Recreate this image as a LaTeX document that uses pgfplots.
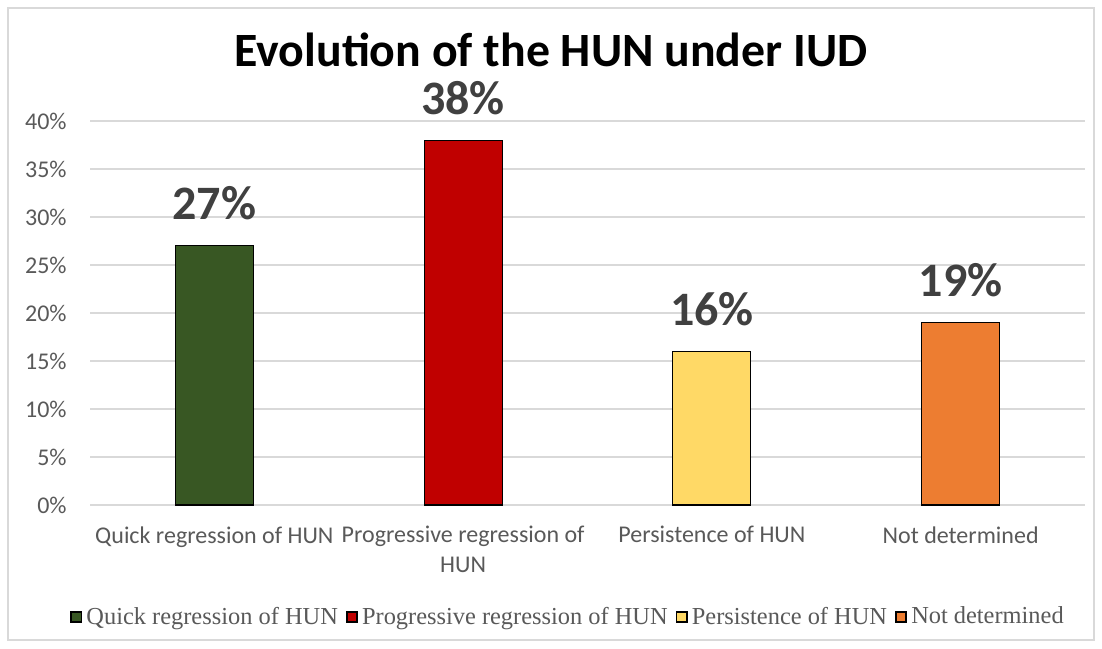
\documentclass[border=0pt]{standalone}
\usepackage{pgfplots}
\pgfplotsset{compat=1.18}
\usepackage{fontspec}
\setmainfont{Carlito}
\newfontfamily\legendfont{Liberation Serif}
\definecolor{cgreen}{HTML}{385723}
\definecolor{cred}{HTML}{C00000}
\definecolor{cyellow}{HTML}{FFD966}
\definecolor{corange}{HTML}{ED7D31}
\definecolor{gridgray}{HTML}{D9D9D9}
\definecolor{ticktext}{HTML}{595959}
\definecolor{labeltext}{HTML}{404040}
% square legend key with black frame
\pgfplotsset{sq/.style={legend image code/.code={%
    \draw[fill=#1, draw=black, line width=0.9pt] (0pt,-2.6pt) rectangle (5.2pt,2.6pt);}}}
\begin{document}
\begin{tikzpicture}
\begin{axis}[
    scale only axis,
    width=497.5pt, height=192pt,
    xmin=-0.5, xmax=3.5,
    ymin=0, ymax=40,
    ytick={0,5,...,40},
    xtick={0,1,2,3},
    xticklabels={Quick regression of HUN, {Progressive regression of\\HUN}, Persistence of HUN, Not determined},
    /pgf/number format/assume math mode=true,
    yticklabel={\pgfmathprintnumber{\tick}\%},
    tick label style={font=\fontsize{12}{15}\selectfont, text=ticktext},
    yticklabel style={anchor=east, inner sep=0pt, xshift=-11.5pt},
    xticklabel style={anchor=north, align=center, inner sep=0pt, yshift=-10.5pt},
    major tick length=0pt,
    axis line style={draw=none},
    ymajorgrids,
    grid style={gridgray, line width=0.6pt},
    ybar, bar width=39pt, bar shift=0pt,
    nodes near coords={\pgfmathprintnumber{\pgfplotspointmeta}\%},
    nodes near coords style={anchor=south, inner sep=0pt, yshift=12.5pt,
        font=\bfseries\fontsize{24}{28}\selectfont, text=labeltext},
    title={Evolution of the HUN under IUD},
    title style={at={(axis description cs:0.4633,1.1536)}, anchor=center,
        font=\bfseries\fontsize{23.9}{28}\selectfont},
    legend columns=-1,
    legend style={at={(axis description cs:0.4814,-0.2917)}, anchor=center,
        draw=white, font=\legendfont\fontsize{12.2}{15}\selectfont, text=ticktext,
        /tikz/every even column/.append style={column sep=2pt},
        inner sep=2pt},
]
\addplot[fill=cgreen, draw=black, line width=0.6pt, forget plot] coordinates {(0,27)};
\addplot[fill=cred, draw=black, line width=0.6pt, forget plot] coordinates {(1,38)};
\addplot[fill=cyellow, draw=black, line width=0.6pt, forget plot] coordinates {(2,16)};
\addplot[fill=corange, draw=black, line width=0.6pt, forget plot] coordinates {(3,19)};
\addlegendimage{sq=cgreen}
\addlegendentry{Quick regression of HUN}
\addlegendimage{sq=cred}
\addlegendentry{Progressive regression of HUN}
\addlegendimage{sq=cyellow}
\addlegendentry{Persistence of HUN}
\addlegendimage{sq=corange}
\addlegendentry{Not determined}
\end{axis}
\draw[gridgray, line width=0.8pt] (-41pt,-67.5pt) rectangle (502pt,248.5pt);
\pgfresetboundingbox
\path (-45pt,-71.5pt) rectangle (506pt,252.5pt);
\end{tikzpicture}
\end{document}
